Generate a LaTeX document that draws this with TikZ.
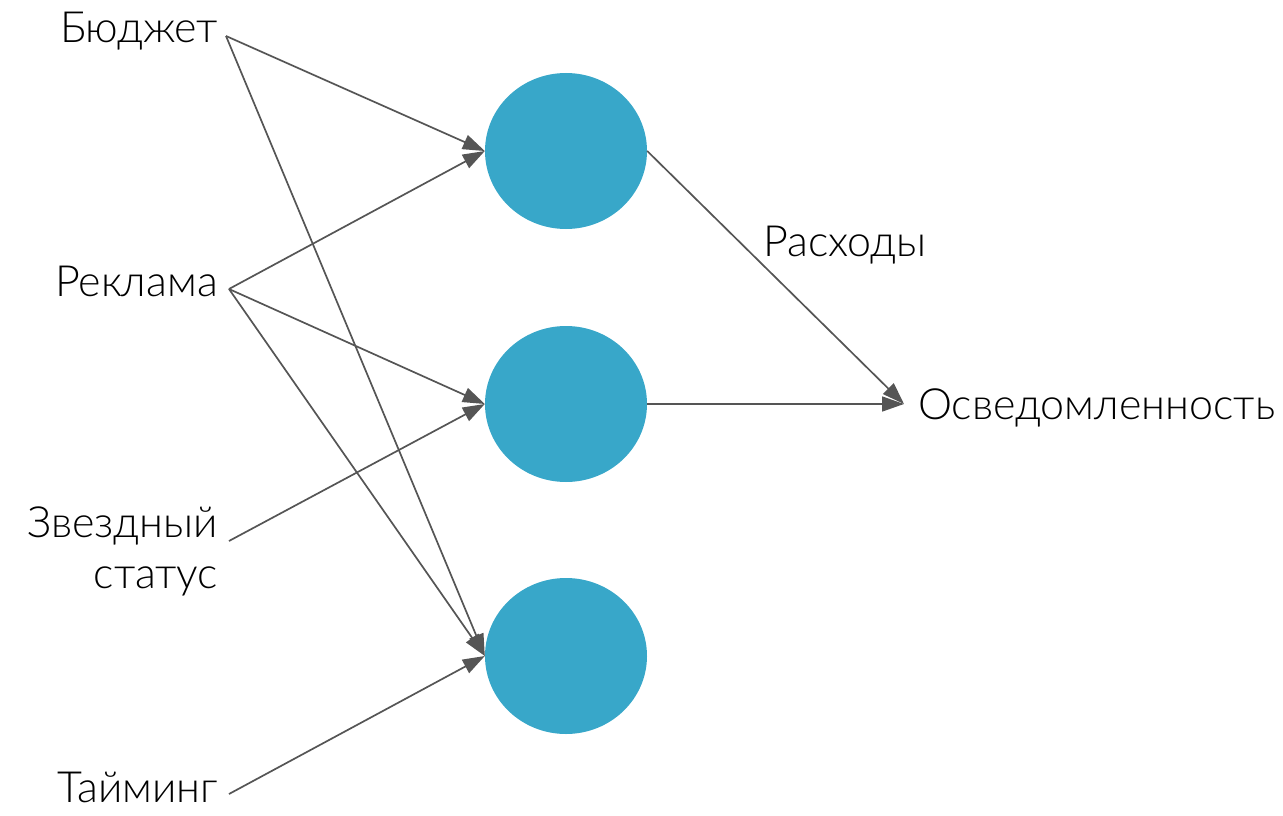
\documentclass[tikz,border=0pt]{standalone}
\usepackage{fontspec}
\setmainfont{Lato}[UprightFont=* Light]
\usetikzlibrary{arrows.meta,shapes.geometric}
\definecolor{nodeblue}{HTML}{38A7C9}
\definecolor{edgegray}{HTML}{555555}
\tikzset{
  neuron/.style={ellipse,fill=nodeblue,draw=none,minimum width=162pt,minimum height=156pt,inner sep=0pt},
  lbl/.style={inner sep=0pt,font=\fontsize{43}{52}\selectfont,text=black},
  edge/.style={draw=edgegray,line width=1.7pt,-{Triangle[length=22pt,width=15pt]},color=edgegray}
}
\begin{document}
\begin{tikzpicture}[x=1pt,y=-1pt]
\useasboundingbox (0,0) rectangle (1283,816);
\node[neuron] (c1) at (566,151) {};
\node[neuron] (c2) at (566,404) {};
\node[neuron] (c3) at (566,656) {};
\node[lbl,anchor=base east] (budget) at (218,43) {Бюджет};
\node[lbl,anchor=base east] (ads) at (218,296) {Реклама};
\node[lbl,anchor=base east] (star1) at (218,537) {Звездный};
\node[lbl,anchor=base east] (star2) at (218,588) {статус};
\node[lbl,anchor=base east] (timing) at (218,802) {Тайминг};
\node[lbl,anchor=base west] (aware) at (918,419) {Осведомленность};
\node[lbl,anchor=base west] (cost) at (763,256) {Расходы};
\coordinate (pb) at (226,36);
\coordinate (pa) at (229,289);
\coordinate (ps) at (229,541);
\coordinate (pt) at (229,794);
\coordinate (po) at (904,404);
\draw[edge] (pb) -- (c1.west);
\draw[edge] (pb) -- (c3.west);
\draw[edge] (pa) -- (c1.west);
\draw[edge] (pa) -- (c2.west);
\draw[edge] (pa) -- (c3.west);
\draw[edge] (ps) -- (c2.west);
\draw[edge] (pt) -- (c3.west);
\draw[edge] (c1.east) -- (po);
\draw[edge] (c2.east) -- (po);
\end{tikzpicture}
\end{document}
